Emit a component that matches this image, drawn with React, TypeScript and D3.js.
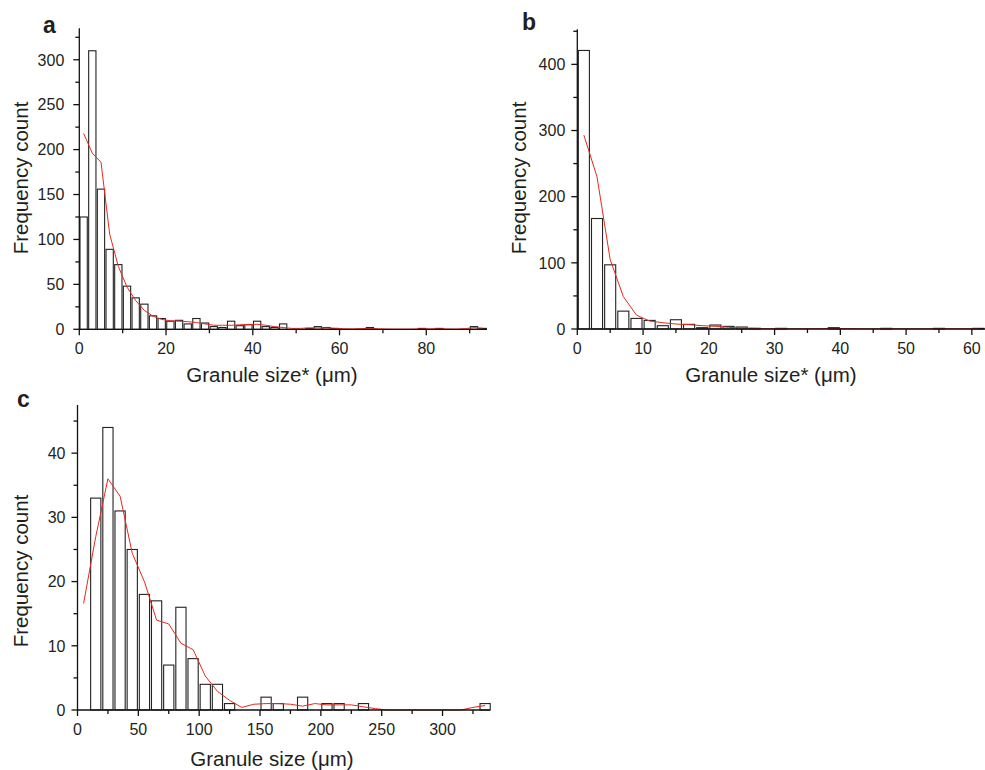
import React from 'react';
import * as d3 from 'd3';

const FONT = '"Liberation Sans", Arial, Helvetica, sans-serif';
const TEXT = '#231f20';

// Panel a: granule size (µm), bins of 2 µm starting at 0
const aBinWidth = 2;
const aCounts = [125, 310, 156, 89, 72, 48, 35, 28, 15, 12, 9, 10, 6, 12, 7, 3, 2, 9, 4, 5, 9, 3, 2, 6, 0, 0, 1, 3, 2, 1, 0, 0, 0, 2, 0, 0, 0, 0, 0, 1, 0, 1, 0, 0, 0, 3, 1];
const aFit = [218, 196, 186, 106, 70, 47, 32, 21, 14.5, 11, 9.5, 9, 8.5, 7.5, 6, 4.5, 4.5, 4.5, 5, 5.5, 5.5, 4.5, 3, 2, 1, 1, 1.5, 1.5, 1.5, 1, 0.6, 0.5, 0.8, 1, 0.6, 0.3, 0.2, 0.2, 0.3, 0.5, 0.6, 0.6, 0.4, 0.3, 0.8, 1.8, 1.2];
const aXTicks = [0, 20, 40, 60, 80];
const aXMinor = [10, 30, 50, 70, 90];
const aYTicks = [0, 50, 100, 150, 200, 250, 300];
const aYMinor = [25, 75, 125, 175, 225, 275, 325];

// Panel b
const bBinWidth = 2;
const bCounts = [421, 167, 97, 27, 16, 13, 5, 14, 7, 2, 6, 4, 3, 1, 0, 1, 0, 0, 0, 2, 0, 0, 0, 1, 0, 0, 0, 1, 0, 0, 1];
const bFit = [293, 230, 105, 49, 21, 12, 9.5, 7.5, 6.5, 5, 4, 2.5, 1.5, 1, 0.5, 0.4, 0.4, 0.4, 0.6, 0.8, 0.6, 0.4, 0.3, 0.5, 0.4, 0.3, 0.3, 0.5, 0.4, 0.4, 0.6];
const bXTicks = [0, 10, 20, 30, 40, 50, 60];
const bXMinor = [5, 15, 25, 35, 45, 55];
const bYTicks = [0, 100, 200, 300, 400];
const bYMinor = [50, 150, 250, 350, 450];

// Panel c
const cBinWidth = 10;
const cCounts = [0, 33, 44, 31, 25, 18, 17, 7, 16, 8, 4, 4, 1, 0, 0, 2, 1, 0, 2, 0, 1, 1, 0, 1, 0, 0, 0, 0, 0, 0, 0, 0, 0, 1];
const cFit = [16.6, 27, 36, 33.3, 24.4, 20, 14, 13.4, 10.4, 9.4, 5.3, 2.9, 1.5, 0.4, 0.9, 1.0, 1.0, 0.9, 0.6, 1.0, 0.8, 0.8, 0.8, 0.5, 0.2, 0, 0, 0, 0, 0, 0, 0, 0.4, 0.7];
const cXTicks = [0, 50, 100, 150, 200, 250, 300];
const cXMinor = [25, 75, 125, 175, 225, 275, 325];
const cYTicks = [0, 10, 20, 30, 40];
const cYMinor = [5, 15, 25, 35, 45];

type PanelProps = {
  letter: string;
  letterPos: [number, number];
  left: number; right: number; top: number; bottom: number;
  xDomain: [number, number]; yDomain: [number, number];
  binWidth: number; counts: number[]; fit: number[];
  xTicks: number[]; xMinor: number[]; yTicks: number[]; yMinor: number[];
  xTitle: string; xTitlePos: [number, number];
  yTitlePos: [number, number];
  yLabelGap: number;
};

function Panel(p: PanelProps) {
  const x = d3.scaleLinear().domain(p.xDomain).range([p.left, p.right]);
  const y = d3.scaleLinear().domain(p.yDomain).range([p.bottom, p.top]);
  const barFrac = 0.84;
  const bars = p.counts.map((c, i) => ({ x0: i * p.binWidth, c })).filter(d => d.c > 0);
  const line = d3.line<number>()
    .x((_, i) => x(i * p.binWidth + p.binWidth / 2))
    .y(v => y(v));
  const sw = 1.3;
  return (
    <g>
      <text x={p.letterPos[0]} y={p.letterPos[1]} fontFamily={FONT} fontWeight="bold" fontSize={23} fill={TEXT}>{p.letter}</text>
      {bars.map((d, i) => {
        const bx0 = x(d.x0 + p.binWidth * (1 - barFrac) / 2);
        const bx1 = x(d.x0 + p.binWidth * (1 + barFrac) / 2);
        return (
          <rect key={i} x={bx0} y={y(d.c)} width={bx1 - bx0} height={y(0) - y(d.c)}
            fill="#fff" stroke="#222" strokeWidth={1.1} />
        );
      })}
      <path d={line(p.fit) || ''} fill="none" stroke="#e8281e" strokeWidth={1} />
      <line x1={p.left} x2={p.right} y1={p.bottom} y2={p.bottom} stroke="#111" strokeWidth={sw} />
      <line x1={p.left} x2={p.left} y1={p.top} y2={p.bottom} stroke="#111" strokeWidth={sw} />
      {p.xTicks.map(t => (
        <g key={'xt' + t}>
          <line x1={x(t)} x2={x(t)} y1={p.bottom} y2={p.bottom + 6} stroke="#111" strokeWidth={sw} />
          <text x={x(t)} y={p.bottom + 24.5} textAnchor="middle" fontFamily={FONT} fontSize={16} fill={TEXT}>{t}</text>
        </g>
      ))}
      {p.xMinor.map(t => (
        <line key={'xm' + t} x1={x(t)} x2={x(t)} y1={p.bottom} y2={p.bottom + 4} stroke="#111" strokeWidth={sw} />
      ))}
      {p.yTicks.map(t => (
        <g key={'yt' + t}>
          <line x1={p.left - 6} x2={p.left} y1={y(t)} y2={y(t)} stroke="#111" strokeWidth={sw} />
          <text x={p.left - p.yLabelGap} y={y(t)} dy="0.36em" textAnchor="end" fontFamily={FONT} fontSize={16} fill={TEXT}>{t}</text>
        </g>
      ))}
      {p.yMinor.map(t => (
        <line key={'ym' + t} x1={p.left - 4} x2={p.left} y1={y(t)} y2={y(t)} stroke="#111" strokeWidth={sw} />
      ))}
      <text x={p.xTitlePos[0]} y={p.xTitlePos[1]} textAnchor="middle" fontFamily={FONT} fontSize={20.5} fill={TEXT}>{p.xTitle}</text>
      <text transform={`translate(${p.yTitlePos[0]},${p.yTitlePos[1]}) rotate(-90)`} textAnchor="middle" fontFamily={FONT} fontSize={20.5} fill={TEXT}>Frequency count</text>
    </g>
  );
}

export default function App() {
  return (
    <svg width={985} height={770} style={{ position: 'absolute', left: 0, top: 0, background: '#fff' }}>
      <rect x={0} y={0} width={985} height={770} fill="#fff" />
      <Panel letter="a" letterPos={[43, 33]}
        left={79.3} right={487} top={28.3} bottom={329.3}
        xDomain={[0, 94]} yDomain={[0, 335]}
        binWidth={aBinWidth} counts={aCounts} fit={aFit}
        xTicks={aXTicks} xMinor={aXMinor} yTicks={aYTicks} yMinor={aYMinor}
        xTitle="Granule size* (μm)" xTitlePos={[272, 382]} yTitlePos={[28, 178]} yLabelGap={15} />
      <Panel letter="b" letterPos={[522, 30]}
        left={577.3} right={985} top={29.3} bottom={329}
        xDomain={[0, 62]} yDomain={[0, 453]}
        binWidth={bBinWidth} counts={bCounts} fit={bFit}
        xTicks={bXTicks} xMinor={bXMinor} yTicks={bYTicks} yMinor={bYMinor}
        xTitle="Granule size* (μm)" xTitlePos={[771, 382]} yTitlePos={[526, 178]} yLabelGap={12} />
      <Panel letter="c" letterPos={[17, 407]}
        left={77.5} right={490} top={405} bottom={710}
        xDomain={[0, 339]} yDomain={[0, 47.5]}
        binWidth={cBinWidth} counts={cCounts} fit={cFit}
        xTicks={cXTicks} xMinor={cXMinor} yTicks={cYTicks} yMinor={cYMinor}
        xTitle="Granule size (μm)" xTitlePos={[272, 766]} yTitlePos={[28, 571]} yLabelGap={12} />
    </svg>
  );
}
